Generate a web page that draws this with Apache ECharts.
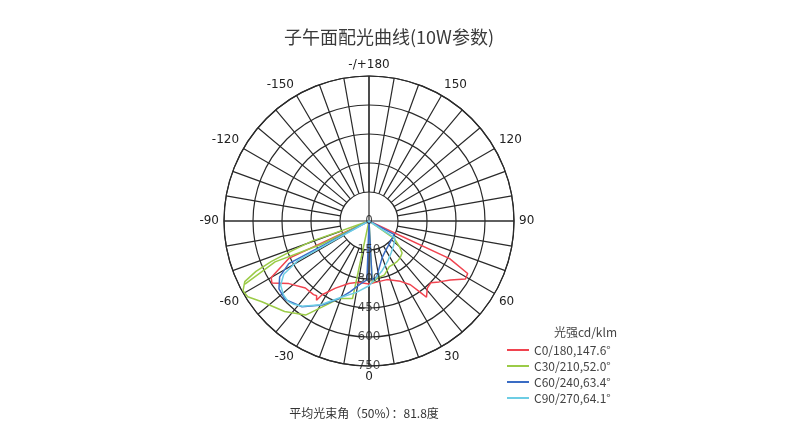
<!DOCTYPE html>
<html><head><meta charset="utf-8">
<script src="https://cdn.jsdelivr.net/npm/echarts@6/dist/echarts.min.js"></script>
<style>html,body{margin:0;padding:0;background:#fff}#c{width:800px;height:433px}</style>
</head><body><div id="c"></div>
<script>
// tick labels
const radialTicks = [0, 150, 300, 450, 600, 750];
const angleTickValues = [0, 30, 60, 90, 120, 150, 180, 210, 240, 270, 300, 330];
const angleTickLabels = ['0', '30', '60', '90', '120', '150', '-/+180', '-150', '-120', '-90', '-60', '-30'];

// series names
const seriesNames = ['C0/180,147.6°', 'C30/210,52.0°', 'C60/240,63.4°', 'C90/270,64.1°'];

// C0/180 (red)
const c0Angles = [90, 70, 65, 62, 59, 54, 49, 45, 41, 37, 36, 33, 27.5, 17, 8, 0, -10, -18, -26.5, -32.5, -33.5, -35, -37, -43.5, -52, -57.5, -60, -65, -70, -90];
const c0Values = [0, 0, 460, 578, 582, 520, 480, 452, 460, 494, 463, 393, 352, 317, 318, 326, 322, 340, 388, 452, 492, 472, 477, 478, 526, 596, 584, 458, 0, 0];

// C30/210 (green)
const c30Angles = [90, 62, 55, 50, 46, 40, 35, 30, 24, 16, 8, 3, 0, -12, -21, -34, -43, -53, -58, -61, -64, -66, -67.5, -69, -70.6, -75, -64, -66.5, -63];
const c30Values = [0, 0, 160, 205, 238, 250, 255, 257, 258, 290, 300, 320, 0, 410, 430, 587, 640, 694, 740, 745, 715, 640, 546, 420, 313, 0, 280, 530, 720];

// C60/240 (blue)
const c60Angles = [90, 66, 62, 54, 40, 28, 20, 14, 8, 3, 1, -2, -8, -15, -21, -29, -38, -47, -53, -58, -62, -65, -90];
const c60Values = [0, 0, 147, 150, 160, 178, 200, 235, 290, 305, 0, 305, 330, 380, 429, 497, 563, 594, 583, 545, 470, 0, 0];

// C90/270 (cyan)
const c90Angles = [90, 64, 57, 45, 35, 25, 15, 7, 0, -10, -20, -30, -38, -42, -45, -49, -54, -58, -61, -64, -90];
const c90Values = [0, 0, 160, 180, 200, 229, 265, 297, 335, 375, 420, 500, 560, 580, 590, 585, 565, 520, 420, 0, 0];

const colors = ['#f0434f', '#9bcb47', '#3a6cc4', '#6dcde4'];

function toPolar(angles, values) {
  return angles.map((a, i) => [values[i], a < 0 ? a + 360 : a]);
}

const chart = echarts.init(document.getElementById('c'));
const R = 145, CX = 369, CY = 221;
const lineFont = 'DejaVu Sans';
const cjk = 'Noto Sans CJK SC';
const gridColor = '#2a2a2a';

function curve(name, angles, values, color) {
  return {
    name: name, type: 'line', coordinateSystem: 'polar', polarIndex: 0,
    data: toPolar(angles, values), symbol: 'none', smooth: false,
    lineStyle: { color: color, width: 1.5 }, itemStyle: { color: color },
    z: 3, silent: true
  };
}

const option = {
  backgroundColor: '#fff',
  animation: false,
  title: [
    { text: '子午面配光曲线(10W参数)', left: 384, top: 23, textAlign: 'center',
      textStyle: { fontFamily: cjk, fontSize: 18, fontWeight: 'normal', color: '#3a3a3a' } },
    { text: '光强cd/klm', left: 612, top: 321, textAlign: 'right',
      textStyle: { fontFamily: cjk, fontSize: 12, fontWeight: 'normal', color: '#444' } },
    { text: '平均光束角（50%）：81.8度', left: 359, top: 402, textAlign: 'center',
      textStyle: { fontFamily: cjk, fontSize: 12, fontWeight: 'normal', color: '#333' } }
  ],
  legend: {
    data: seriesNames, left: 502, top: 339, orient: 'vertical',
    itemWidth: 22, itemHeight: 2, itemGap: 4, icon: 'rect',
    textStyle: { fontFamily: cjk, fontSize: 12, color: '#444' }
  },
  polar: [
    { center: [CX, CY], radius: R },
    { center: [CX, CY], radius: [R / 5, R] }
  ],
  angleAxis: [
    { polarIndex: 0, type: 'value', min: 0, max: 360, interval: 30, startAngle: 270, clockwise: false,
      axisLine: { show: true, lineStyle: { color: gridColor, width: 1.2 } },
      axisTick: { show: false },
      axisLabel: { show: true, margin: 5, color: '#222', fontSize: 12, fontFamily: lineFont,
        formatter: function (v) { const i = angleTickValues.indexOf(v); return i >= 0 ? angleTickLabels[i] : ''; } },
      splitLine: { show: true, lineStyle: { color: [gridColor, 'rgba(0,0,0,0)', 'rgba(0,0,0,0)'], width: 1.2 } } },
    { polarIndex: 1, type: 'value', min: 0, max: 360, interval: 10, startAngle: 270, clockwise: false,
      axisLine: { show: false }, axisTick: { show: false }, axisLabel: { show: false },
      splitLine: { show: true, lineStyle: { color: gridColor, width: 1.2 } } }
  ],
  radiusAxis: [
    { polarIndex: 0, type: 'value', min: 0, max: 750, interval: 150,
      axisLine: { show: false }, axisTick: { show: false }, axisLabel: { show: false },
      splitLine: { show: true, lineStyle: { color: gridColor, width: 1.2 } } },
    { polarIndex: 1, type: 'value', min: 0, max: 750, interval: 150,
      axisLine: { show: false }, axisTick: { show: false }, axisLabel: { show: false },
      splitLine: { show: false } }
  ],
  series: [
    curve(seriesNames[0], c0Angles, c0Values, colors[0]),
    curve(seriesNames[1], c30Angles, c30Values, colors[1]),
    curve(seriesNames[2], c60Angles, c60Values, colors[2]),
    curve(seriesNames[3], c90Angles, c90Values, colors[3]),
    { name: 'radialLabels', type: 'scatter', coordinateSystem: 'polar', polarIndex: 0,
      data: radialTicks.map(v => [v, 0]), symbolSize: 1, itemStyle: { color: 'rgba(0,0,0,0)' },
      label: { show: true, position: 'inside', formatter: p => String(p.value[0]),
        color: '#222', fontSize: 12, fontFamily: lineFont },
      silent: true, z: 4 }
  ]
};
chart.setOption(option);
</script>
</body></html>
